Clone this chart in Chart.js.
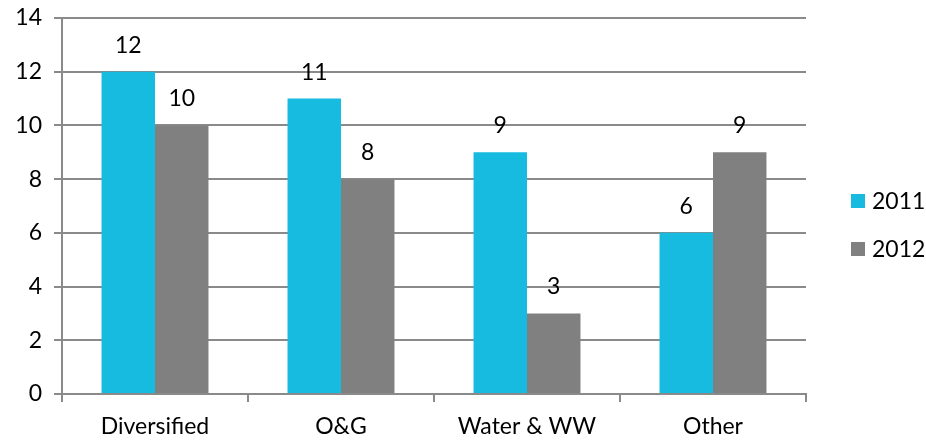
<!DOCTYPE html>
<html>
<head>
<meta charset="utf-8">
<script src="https://cdn.jsdelivr.net/npm/chart.js@4/dist/chart.umd.min.js"></script>
<style>
  html, body { margin: 0; padding: 0; background: #fff; }
  #wrap { width: 926px; height: 442px; }
</style>
</head>
<body>
<div id="wrap"><canvas id="c" width="926" height="442"></canvas></div>
<script>
const categories = ['Diversified', 'O&G', 'Water & WW', 'Other'];
const seriesNames = ['2011', '2012'];
const values2011 = [12, 11, 9, 6];
const values2012 = [10, 8, 3, 9];
const seriesColors = ['#17BBE0', '#808080'];

const FONT = 'Lato, "Open Sans", sans-serif';
const FSIZE = 23;
const AXIS = '#8a8a8a';

// values printed above each bar
const valueLabels = {
  id: 'valueLabels',
  afterDatasetsDraw(chart) {
    const ctx = chart.ctx;
    ctx.save();
    ctx.font = FSIZE + 'px ' + FONT;
    ctx.fillStyle = '#000';
    ctx.textAlign = 'center';
    ctx.textBaseline = 'alphabetic';
    chart.data.datasets.forEach((ds, i) => {
      chart.getDatasetMeta(i).data.forEach((bar, j) => {
        ctx.fillText(String(ds.data[j]), bar.x, bar.y - 19);
      });
    });
    ctx.restore();
  }
};

// legend on the right side
const sideLegend = {
  id: 'sideLegend',
  afterDraw(chart) {
    const ctx = chart.ctx;
    ctx.save();
    ctx.font = FSIZE + 'px ' + FONT;
    ctx.textBaseline = 'middle';
    ctx.textAlign = 'left';
    const x = 851, y0 = 201, step = 48;
    chart.data.datasets.forEach((ds, i) => {
      const y = y0 + i * step;
      ctx.fillStyle = ds.backgroundColor;
      ctx.fillRect(x, y - 7, 14, 14);
      ctx.fillStyle = '#000';
      ctx.fillText(ds.label, x + 21, y + 1);
    });
    ctx.restore();
  }
};

new Chart(document.getElementById('c'), {
  type: 'bar',
  data: {
    labels: categories,
    datasets: [
      { label: seriesNames[0], data: values2011, backgroundColor: seriesColors[0] },
      { label: seriesNames[1], data: values2012, backgroundColor: seriesColors[1] }
    ]
  },
  options: {
    responsive: false,
    animation: false,
    layout: { padding: { top: 18, right: 120, left: 0, bottom: 0 } },
    datasets: { bar: { categoryPercentage: 0.575, barPercentage: 1.0 } },
    plugins: { legend: { display: false }, tooltip: { enabled: false } },
    scales: {
      x: {
        grid: { offset: true, drawOnChartArea: false, drawTicks: true, tickLength: 8, color: AXIS, lineWidth: 2 },
        border: { display: true, color: AXIS, width: 2 },
        ticks: { color: '#000', font: { family: FONT, size: FSIZE }, padding: 11, maxRotation: 0 },
        afterFit(s) { s.height = 48; s.paddingLeft = 0; s.paddingRight = 0; }
      },
      y: {
        min: 0, max: 14,
        ticks: { stepSize: 2, color: '#000', font: { family: FONT, size: FSIZE }, padding: 12 },
        grid: { color: AXIS, lineWidth: 2, tickLength: 8 },
        border: { display: true, color: AXIS, width: 2 },
        afterFit(s) { s.width = 62; s.paddingTop = 0; s.paddingBottom = 0; }
      }
    }
  },
  plugins: [valueLabels, sideLegend]
});
</script>
</body>
</html>
